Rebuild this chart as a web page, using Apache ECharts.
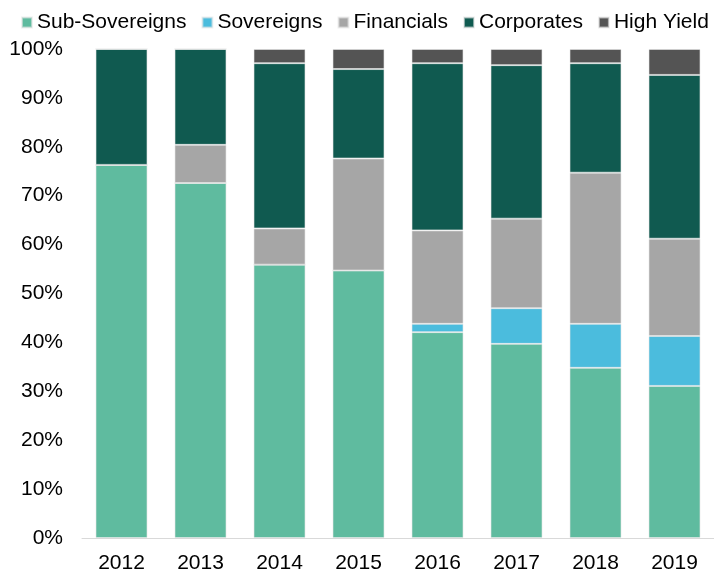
<!DOCTYPE html>
<html lang="en">
<head>
	<meta charset="UTF-8">
	<title>Portfolio mix</title>
	<style type="text/css">
		html, body { margin: 0; padding: 0; background: #fff; }
	</style>
	<script src="https://cdn.jsdelivr.net/npm/echarts@6/dist/echarts.min.js"></script>
</head>
<body>
	<div id="main" style="width: 714px;height:574px;"></div>
	<script type="text/javascript">
	var years = ['2012', '2013', '2014', '2015', '2016', '2017', '2018', '2019'];
	var subSovereigns = [76.3, 72.6, 55.9, 54.7, 42.1, 39.7, 34.8, 31.1];
	var sovereigns = [0, 0, 0, 0, 1.7, 7.3, 9.0, 10.2];
	var financials = [0, 7.8, 7.4, 22.9, 19.1, 18.3, 30.9, 19.9];
	var corporates = [23.7, 19.6, 33.8, 18.3, 34.2, 31.4, 22.4, 33.5];
	var highYield = [0, 0, 2.9, 4.1, 2.9, 3.3, 2.9, 5.3];

	var font = 'Liberation Sans, Arial, sans-serif';

	function bar(name, data, color) {
		return {
			name: name,
			type: 'bar',
			stack: 'total',
			barWidth: 52,
			data: data,
			itemStyle: { color: color, borderColor: 'rgba(230,230,230,0.6)', borderWidth: 1 }
		};
	}

	var myChart = echarts.init(document.getElementById('main'));
	var option = {
		animation: false,
		legend: {
			left: 21,
			right: 0,
			top: 12,
			padding: 0,
			itemWidth: 10,
			itemHeight: 10,
			itemGap: 15,
			icon: 'rect',
			textStyle: { fontFamily: font, fontSize: 21, color: '#000' }
		},
		grid: { left: 82, right: 0, top: 49, bottom: 34 },
		xAxis: {
			type: 'category',
			data: years,
			axisLine: { lineStyle: { color: '#d9d9d9', width: 1 } },
			axisTick: { show: false },
			axisLabel: { fontFamily: font, fontSize: 21, color: '#000', margin: 15 }
		},
		yAxis: {
			type: 'value',
			min: 0,
			max: 100,
			interval: 10,
			splitLine: { show: false },
			axisLine: { show: false },
			axisLabel: { fontFamily: font, fontSize: 21, color: '#000', margin: 19, formatter: '{value}%' }
		},
		series: [
			bar('Sub-Sovereigns', subSovereigns, '#5fbb9f'),
			bar('Sovereigns', sovereigns, '#4bbcdd'),
			bar('Financials', financials, '#a6a6a6'),
			bar('Corporates', corporates, '#105a50'),
			bar('High Yield', highYield, '#545454')
		]
	};
	myChart.setOption(option);
	</script>
</body>
</html>
